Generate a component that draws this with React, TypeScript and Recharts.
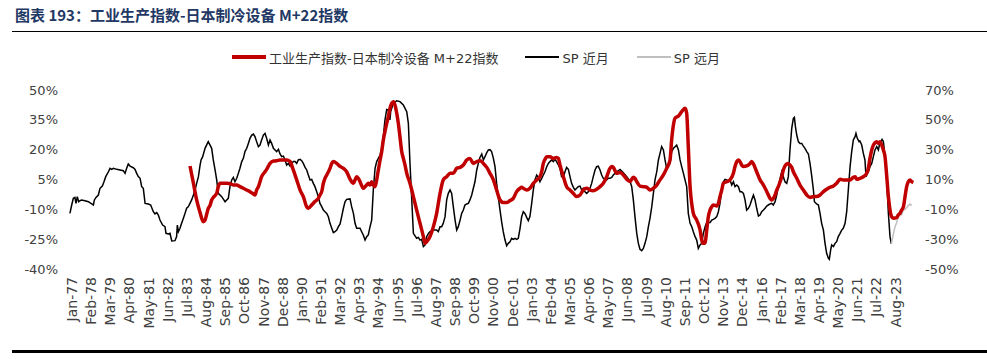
import { Line, LineChart, XAxis, YAxis } from "recharts";

// months since Jan-77, value in %
const ipM22: [number, number][] = [
  [80.1, 11.8], [82.4, 3.1], [84.6, -5.3], [86.9, -11.6], [89.1, -16.2], [90.3, -15.4], [91.4, -12.5], [92.5, -9.5],
  [93.7, -8.0], [94.8, -5.3], [95.9, -4.0], [98.2, -2.0], [99.3, 1.4], [100.5, 3.1], [102.7, 3.1], [105.0, 3.1],
  [108.4, 2.6], [109.5, 2.2], [111.8, 2.2], [114.0, 1.4], [116.3, 0.6], [118.6, -0.3], [120.8, -1.1], [123.1, -2.3],
  [124.2, -2.8], [125.3, -0.3], [126.5, 1.4], [127.6, 3.9], [128.7, 6.4], [131.0, 8.9], [132.1, 10.1], [134.4, 13.1],
  [136.7, 14.3], [138.9, 14.4], [141.2, 14.8], [143.5, 14.8], [145.7, 14.8], [148.0, 14.0], [150.2, 9.8], [152.5, 4.8],
  [154.8, -0.3], [157.0, -3.6], [159.3, -8.7], [160.4, -9.5], [162.7, -7.8], [164.9, -6.1], [167.2, -4.5], [168.3, -2.8],
  [169.5, -1.1], [170.6, 3.1], [171.7, 5.6], [172.9, 7.3], [175.1, 10.6], [176.3, 13.1], [177.4, 14.0], [179.7, 13.1],
  [181.9, 11.6], [184.2, 10.6], [186.4, 8.9], [188.7, 5.2], [191.0, 3.1], [192.1, 4.8], [193.2, 6.4], [194.3, 5.6],
  [195.5, 3.9], [197.7, 0.6], [198.9, 1.4], [200.0, 2.2], [201.1, 3.1], [202.3, 2.2], [203.4, 3.9], [204.5, 2.2],
  [205.7, 1.4], [206.8, 4.8], [207.9, 9.8], [209.1, 14.8], [210.2, 19.0], [211.3, 24.9], [212.4, 29.1], [213.6, 33.2],
  [214.7, 36.6], [215.8, 40.8], [217.0, 43.3], [218.1, 44.1], [219.2, 42.5], [220.4, 38.3], [221.5, 33.2], [222.6, 26.5],
  [223.8, 19.0], [224.9, 15.6], [226.0, 12.3], [227.2, 8.1], [229.4, 3.1], [231.7, -3.6], [233.9, -10.3], [236.2, -17.0],
  [238.5, -23.7], [239.6, -27.1], [240.7, -26.3], [243.0, -23.7], [245.3, -18.7], [247.5, -12.0], [249.8, -2.0], [252.0, 4.8],
  [254.3, 6.4], [256.6, 8.1], [258.8, 8.1], [261.1, 10.6], [263.4, 11.1], [265.6, 12.3], [267.9, 14.8], [270.1, 15.6],
  [272.4, 13.1], [274.7, 14.0], [276.9, 14.4], [279.2, 13.1], [281.5, 11.1], [283.7, 8.1], [286.0, 4.8], [288.2, -0.3],
  [290.5, -5.3], [292.7, -6.6], [295.0, -6.6], [297.3, -5.6], [299.5, -4.5], [301.8, -1.1], [304.1, 0.6], [305.2, 1.1],
  [306.3, 0.6], [308.6, -0.3], [310.8, 0.6], [313.1, 3.1], [315.4, 4.8], [317.6, 6.4], [318.8, 8.9], [319.9, 13.1],
  [321.0, 15.1], [322.2, 16.5], [324.4, 16.5], [326.7, 15.6], [328.9, 16.1], [330.1, 15.6], [331.2, 12.3], [333.5, 6.4],
  [335.7, 1.4], [338.0, -0.3], [340.3, -2.0], [342.5, -3.6], [344.8, -2.8], [347.0, -0.3], [349.3, 0.6], [351.6, -0.3],
  [353.8, -0.6], [356.1, 0.1], [358.4, 1.4], [360.6, 3.1], [362.9, 6.4], [365.1, 10.6], [366.3, 11.5], [367.4, 11.1],
  [369.7, 8.1], [371.9, 8.5], [374.2, 7.3], [376.5, 5.1], [378.7, 4.0], [381.0, 6.1], [382.1, 5.6], [383.3, 3.9],
  [385.5, 1.7], [387.8, 1.4], [390.1, 1.1], [392.3, -0.3], [394.6, 0.6], [396.9, 2.2], [399.1, 4.8], [401.4, 7.3],
  [403.6, 10.6], [405.9, 14.8], [407.0, 24.9], [408.2, 32.4], [409.3, 35.8], [411.6, 36.9], [413.8, 39.1], [416.1, 40.8],
  [417.2, 38.3], [418.3, 21.5], [419.5, 1.4], [420.6, -7.0], [421.7, -12.0], [424.0, -15.4], [426.3, -20.4], [427.4, -25.4],
  [428.5, -27.1], [429.7, -26.8], [430.8, -20.4], [431.9, -13.7], [433.1, -10.3], [434.2, -8.7], [435.3, -7.8], [437.6, -8.3],
  [438.7, -7.0], [439.8, -3.6], [441.0, -0.3], [442.1, 3.1], [444.4, 3.9], [446.6, 4.8], [448.9, 8.1], [450.0, 11.5],
  [451.2, 14.0], [452.3, 14.8], [453.4, 14.0], [454.5, 12.3], [455.7, 11.5], [457.9, 11.8], [460.2, 13.1], [461.3, 14.0],
  [462.5, 12.8], [464.7, 8.9], [467.0, 4.8], [469.3, 2.2], [471.5, -1.0], [473.8, -4.5], [474.9, -5.3], [476.0, -4.5],
  [477.2, -2.8], [478.3, -0.3], [479.4, 1.4], [480.6, 3.9], [481.7, 6.4], [482.8, 9.8], [483.9, 11.8], [485.1, 12.8],
  [486.2, 13.1], [487.3, 12.3], [488.5, 11.1], [489.6, 8.9], [491.9, 5.6], [494.1, 2.2], [496.4, -0.3], [498.7, -2.8],
  [500.9, -4.0], [503.2, -3.6], [505.4, -3.6], [507.7, -2.8], [510.0, -1.1], [512.2, 0.1], [514.5, 1.1], [516.8, 1.7],
  [519.0, 3.1], [521.3, 5.1], [523.5, 4.8], [525.8, 4.8], [528.1, 4.8], [530.3, 6.1], [531.5, 6.4], [532.6, 5.1],
  [534.8, 5.6], [537.1, 6.4], [539.4, 8.1], [540.5, 10.6], [541.6, 15.6], [542.8, 19.8], [543.9, 22.3], [545.0, 23.5],
  [546.2, 24.0], [547.3, 23.2], [548.4, 24.0], [549.6, 22.3], [550.7, 19.8], [551.8, 16.5], [553.0, 6.4], [554.1, -3.6],
  [555.2, -10.3], [556.3, -13.7], [557.5, -14.5], [559.7, -14.2], [560.9, -12.8], [562.0, -12.0], [563.1, -10.3], [564.3, -8.7],
  [565.4, -3.6], [566.5, 1.4], [567.6, 3.9], [568.8, 4.8], [569.9, 3.9], [571.0, 3.4],
];

const spNear: [number, number][] = [
  [-1.4, -12.7], [-0.2, -7.1], [0.9, -2.6], [2.0, -2.0], [2.7, -6.0], [3.6, -1.5], [4.5, -4.9], [5.4, -4.2],
  [6.6, -3.8], [8.8, -4.2], [11.1, -4.9], [13.4, -6.4], [14.5, -7.1], [15.2, -3.7], [16.3, -2.0], [17.9, -0.4],
  [19.0, 4.1], [20.6, 5.6], [21.7, 8.5], [22.9, 11.9], [24.7, 15.2], [25.8, 17.5], [26.9, 16.8], [28.1, 17.5],
  [30.3, 16.8], [32.6, 16.4], [34.8, 15.9], [36.0, 14.1], [37.1, 17.5], [38.2, 20.4], [39.4, 19.0], [41.6, 17.9],
  [42.8, 16.8], [43.9, 14.1], [45.0, 11.9], [46.2, 10.8], [47.3, 5.2], [48.4, 4.1], [49.6, -6.0], [51.8, -6.4],
  [53.4, -7.1], [55.2, -11.6], [56.3, -13.1], [57.5, -12.2], [58.6, -13.8], [59.7, -17.2], [61.5, -20.5], [63.1, -21.6],
  [63.8, -26.1], [65.4, -26.5], [66.5, -26.1], [67.7, -31.2], [69.9, -31.0], [71.0, -28.3], [71.5, -20.5], [72.2, -25.0],
  [73.3, -22.7], [74.4, -19.4], [75.6, -16.0], [76.7, -12.7], [77.8, -9.3], [79.0, -8.2], [81.2, -3.7], [82.4, -0.4],
  [83.5, 3.0], [84.6, 7.4], [85.8, 11.9], [86.9, 19.5], [87.6, 23.1], [88.7, 25.3], [90.3, 30.9], [91.9, 34.2],
  [92.5, 35.4], [93.7, 33.1], [94.8, 30.9], [95.9, 23.1], [97.1, 16.4], [98.2, 9.7], [99.3, 0.7], [101.6, -1.5],
  [103.9, -4.9], [105.0, -3.7], [106.1, -2.6], [107.2, 5.2], [108.4, 9.7], [109.5, 11.4], [110.6, 8.5], [111.8, 10.8],
  [112.9, 14.1], [114.0, 17.5], [115.2, 22.0], [116.3, 24.2], [117.4, 28.7], [118.6, 30.9], [119.7, 34.2], [120.8, 37.6],
  [122.0, 39.8], [123.1, 40.5], [124.2, 38.7], [125.3, 35.4], [126.5, 32.0], [127.6, 33.1], [128.7, 36.5], [129.9, 39.8],
  [131.0, 40.9], [132.1, 37.6], [133.3, 33.1], [134.4, 36.5], [135.5, 34.2], [136.7, 30.9], [137.8, 29.8], [138.9, 28.7],
  [140.1, 30.2], [141.2, 27.1], [142.3, 25.3], [143.5, 25.7], [144.6, 23.1], [145.7, 19.7], [146.8, 20.8], [148.0, 19.0],
  [149.1, 20.8], [150.2, 22.0], [151.4, 22.0], [152.5, 20.8], [153.6, 23.1], [154.8, 23.5], [155.9, 22.6], [157.0, 20.8],
  [158.2, 18.1], [159.3, 16.4], [160.4, 13.0], [161.6, 9.7], [162.7, 10.1], [163.8, 7.4], [164.9, 5.2], [166.1, 1.8],
  [167.2, -1.5], [168.3, -6.0], [169.5, -8.2], [170.6, -10.5], [171.7, -11.6], [172.9, -12.7], [174.0, -15.0], [175.1, -19.4],
  [176.3, -22.7], [177.4, -25.6], [178.5, -25.0], [179.7, -23.9], [180.8, -21.6], [181.9, -19.9], [183.0, -15.0], [184.2, -9.3],
  [185.3, -4.9], [186.4, -3.3], [188.7, -3.0], [189.8, -8.2], [191.0, -12.7], [192.1, -19.4], [193.2, -22.7], [195.5, -22.7],
  [196.6, -25.0], [197.7, -27.2], [198.9, -30.6], [200.0, -28.3], [201.1, -27.2], [202.3, -21.6], [203.4, -17.2], [204.5, 3.0],
  [205.7, 17.5], [206.8, 22.0], [207.9, 24.2], [209.1, 26.4], [210.2, 30.9], [211.3, 38.7], [212.4, 49.9], [213.6, 57.0],
  [214.7, 56.6], [215.8, 49.9], [216.3, 55.5], [217.0, 57.7], [218.1, 61.1], [220.4, 62.8], [222.6, 62.2], [224.9, 59.9],
  [227.2, 55.5], [228.3, 47.6], [229.4, 20.8], [230.5, -1.5], [231.7, -26.1], [233.9, -29.4], [235.1, -28.8], [236.2, -30.6],
  [237.3, -30.1], [238.5, -35.0], [239.6, -33.9], [240.7, -28.3], [241.9, -26.1], [243.0, -25.0], [245.3, -23.9], [247.5, -23.9],
  [248.6, -25.0], [249.8, -21.6], [250.9, -21.6], [252.0, -19.4], [253.2, -14.9], [254.3, -3.7], [255.4, 0.7], [256.6, 3.0],
  [257.7, 0.7], [258.8, -8.2], [260.0, -17.2], [261.1, -23.9], [262.2, -21.6], [263.4, -17.2], [264.5, -12.7], [265.6, -10.5],
  [266.7, -7.1], [267.9, -6.4], [269.0, -6.0], [270.1, -3.7], [271.3, -0.4], [272.4, 4.1], [273.5, 8.5], [274.7, 16.4],
  [275.8, 20.8], [276.9, 24.8], [278.1, 27.1], [279.2, 23.1], [280.3, 25.3], [281.5, 28.0], [282.6, 29.8], [283.7, 30.0],
  [284.8, 28.7], [286.0, 24.2], [287.1, 18.6], [288.2, 7.4], [289.3, -1.5], [290.5, -10.5], [291.6, -18.3], [292.7, -25.0],
  [293.9, -30.6], [295.0, -34.4], [296.1, -32.8], [297.3, -31.7], [298.4, -29.4], [299.5, -30.1], [300.7, -29.4], [301.8, -30.1],
  [302.9, -29.4], [304.1, -22.7], [305.2, -14.9], [306.3, -11.6], [307.4, -12.7], [308.6, -15.4], [309.7, -17.6], [310.8, -14.9],
  [312.0, -6.0], [313.1, 3.0], [314.2, 9.7], [315.4, 13.0], [316.5, 11.4], [317.6, 8.5], [318.8, 10.8], [319.9, 13.0],
  [321.0, 15.2], [322.2, 18.6], [323.3, 20.8], [324.4, 22.0], [325.5, 23.1], [326.7, 22.0], [327.8, 23.5], [328.9, 22.0],
  [330.1, 19.7], [331.2, 17.5], [332.3, 11.9], [333.5, 11.9], [334.6, 15.2], [335.7, 18.1], [336.9, 16.8], [338.0, 11.9],
  [339.1, 7.4], [340.3, 4.7], [341.4, 3.0], [342.5, 4.1], [343.6, 5.2], [344.8, 5.6], [345.9, 3.0], [347.0, 4.1],
  [348.2, 1.8], [349.3, 0.7], [350.4, 1.8], [351.6, 4.1], [352.7, 7.4], [353.8, 11.9], [355.0, 16.4], [356.1, 18.6],
  [357.2, 19.0], [358.4, 16.4], [359.5, 13.0], [360.6, 10.8], [361.7, 10.1], [362.9, 9.7], [364.0, 10.8], [365.1, 10.8],
  [366.3, 11.4], [367.4, 13.0], [369.7, 15.2], [372.0, 16.8], [374.2, 14.6], [376.5, 11.9], [378.7, 9.0], [379.9, 5.2],
  [381.0, -3.7], [382.1, -14.9], [383.3, -26.1], [384.4, -32.8], [385.5, -36.8], [386.7, -37.7], [387.8, -36.2], [388.9, -32.8],
  [390.1, -28.3], [391.2, -21.6], [392.3, -16.0], [393.5, -8.2], [394.6, 0.7], [395.7, 9.7], [396.9, 15.2], [398.0, 23.1],
  [399.1, 27.5], [400.2, 32.0], [401.4, 29.8], [402.5, 23.1], [403.6, 17.5], [404.8, 19.7], [405.9, 20.8], [407.0, 28.7],
  [408.2, 30.9], [409.3, 32.0], [410.4, 33.1], [411.6, 29.8], [412.7, 23.1], [413.8, 18.6], [415.0, 14.1], [416.1, 9.7],
  [417.2, 5.2], [418.3, -12.7], [419.5, -19.4], [420.6, -21.6], [421.7, -25.0], [422.9, -28.3], [424.0, -30.6], [425.1, -36.2],
  [426.3, -33.9], [427.4, -32.8], [428.5, -26.1], [429.7, -21.6], [430.8, -18.9], [433.1, -18.9], [434.2, -17.2], [435.3, -16.7],
  [436.4, -16.0], [437.6, -14.9], [438.7, -11.6], [439.8, -6.0], [441.0, 3.0], [442.1, 8.5], [443.2, 10.1], [444.4, 9.7],
  [445.5, 8.5], [446.6, 9.7], [447.8, 6.3], [448.9, 8.5], [450.0, 5.2], [451.2, 6.3], [452.3, 5.2], [453.4, 1.8],
  [454.5, 1.8], [455.7, 0.7], [456.8, -3.7], [457.9, -10.5], [459.1, -9.3], [460.2, -7.1], [461.3, -3.7], [462.5, -0.4],
  [463.6, -3.7], [464.7, -9.3], [465.9, -14.5], [467.0, -13.8], [468.1, -11.6], [469.3, -10.5], [470.4, -9.3], [471.5, -7.8],
  [472.6, -7.1], [473.8, -6.4], [474.9, -6.0], [476.0, -7.1], [477.2, -4.9], [478.3, -0.4], [479.4, 5.2], [480.6, 10.8],
  [481.7, 15.2], [482.8, 11.9], [483.9, 8.5], [485.1, 7.4], [486.2, 11.9], [487.3, 29.8], [488.5, 44.3], [489.6, 51.0],
  [490.3, 51.7], [491.0, 45.4], [491.9, 39.8], [493.0, 35.4], [494.1, 34.2], [495.3, 34.2], [496.4, 32.4], [497.5, 30.9],
  [498.7, 28.7], [499.8, 27.1], [500.9, 20.8], [502.0, 13.0], [503.2, 3.0], [503.9, -4.9], [505.4, -6.4], [506.6, -7.1],
  [507.7, -12.7], [508.8, -19.4], [510.0, -23.9], [511.1, -32.8], [512.2, -39.5], [513.4, -42.9], [514.0, -43.5], [514.9, -37.3],
  [515.6, -33.9], [516.8, -35.0], [517.9, -32.8], [519.0, -31.7], [520.1, -28.3], [521.3, -26.1], [522.4, -23.9], [523.5, -22.7],
  [524.7, -19.4], [525.8, -11.6], [526.9, 3.0], [528.1, 18.6], [529.2, 28.7], [530.3, 36.5], [531.5, 38.7], [532.1, 40.9],
  [533.0, 37.6], [534.2, 35.4], [534.8, 35.8], [536.0, 33.1], [537.1, 27.5], [538.2, 23.1], [538.9, 11.9], [539.8, 14.1],
  [540.5, 15.2], [541.6, 18.6], [542.8, 20.8], [543.9, 25.3], [545.0, 29.8], [546.2, 32.0], [547.3, 29.8], [548.0, 33.1],
  [548.9, 35.4], [549.8, 36.9], [550.7, 35.4], [551.8, 25.3], [553.0, 9.7], [554.1, -12.7], [555.2, -28.3], [556.1, -33.2],
];

const spFar: [number, number][] = [
  [556.1, -33.2], [557.5, -26.5], [558.6, -21.6], [559.7, -19.0], [560.8, -15.0], [561.9, -12.0], [563.1, -13.5],
  [564.3, -10.5], [565.4, -10.0], [566.5, -9.0], [567.6, -7.5], [568.8, -6.5], [569.9, -7.5],
];

const tickLabels = [
  "Jan-77", "Feb-78", "Mar-79", "Apr-80", "May-81", "Jun-82", "Jul-83", "Aug-84", "Sep-85", "Oct-86", "Nov-87",
  "Dec-88", "Jan-90", "Feb-91", "Mar-92", "Apr-93", "May-94", "Jun-95", "Jul-96", "Aug-97", "Sep-98", "Oct-99",
  "Nov-00", "Dec-01", "Jan-03", "Feb-04", "Mar-05", "Apr-06", "May-07", "Jun-08", "Jul-09", "Aug-10", "Sep-11",
  "Oct-12", "Nov-13", "Dec-14", "Jan-16", "Feb-17", "Mar-18", "Apr-19", "May-20", "Jun-21", "Jul-22", "Aug-23",
];
const leftTicks = [-40, -25, -10, 5, 20, 35, 50];
const rightTicks = [-50, -30, -10, 10, 30, 50, 70];

const SERIES = [
  { key: "ip", name: "工业生产指数-日本制冷设备 M+22指数", color: "#C00000", width: 3.5 },
  { key: "near", name: "SP 近月", color: "#000000", width: 1.5 },
  { key: "far", name: "SP 远月", color: "#BFBFBF", width: 1.5 },
];

const FONT = "'DejaVu Sans', 'Noto Sans CJK SC', sans-serif";
const TEXT = "#404040";
const tickMonths = tickLabels.map((_, i) => i * 13);
const toRows = (pts: [number, number][]) => pts.map(([m, v]) => ({ m, v }));

function MonthTick({ x, y, payload }: any) {
  return (
    <text
      x={x}
      y={y}
      transform={`rotate(-90, ${x}, ${y})`}
      textAnchor="end"
      dominantBaseline="central"
      fontSize={14}
      fontFamily={FONT}
      fill={TEXT}
    >
      {tickLabels[Math.round(payload.value / 13)]}
    </text>
  );
}

export default function App() {
  const axisTick = { fontSize: 13, fill: TEXT, fontFamily: FONT };
  return (
    <div style={{ position: "absolute", left: 0, top: 0, width: 987, height: 359, background: "#fff", fontFamily: FONT }}>
      <div
        style={{
          position: "absolute",
          left: 15,
          top: 5,
          fontSize: 15,
          fontWeight: 700,
          color: "#1F3864",
          fontFamily: "'Noto Sans CJK SC', sans-serif",
          lineHeight: "20px",
          whiteSpace: "nowrap",
        }}
      >
        图表 193：工业生产指数-日本制冷设备 M+22指数
      </div>
      <div style={{ position: "absolute", left: 12, right: 0, top: 31, height: 1, background: "#000" }} />

      <div style={{ position: "absolute", left: 232, top: 48, display: "flex", alignItems: "center", height: 18 }}>
        {SERIES.map((s, i) => (
          <div key={s.key} style={{ display: "flex", alignItems: "center", marginRight: i === 0 ? 27 : 28 }}>
            <div style={{ width: 34, height: s.width, background: s.color, marginRight: 3 }} />
            <span style={{ fontSize: 13, color: "#333", whiteSpace: "nowrap" }}>{s.name}</span>
          </div>
        ))}
      </div>

      <div style={{ position: "absolute", top: 0, left: 0 }}>
        <LineChart width={987} height={359} margin={{ top: 90, right: 0, bottom: 0, left: 0 }}>
          <XAxis
            type="number"
            dataKey="m"
            domain={[-5.43, 574.2]}
            allowDataOverflow
            ticks={tickMonths}
            interval={0}
            axisLine={false}
            tickLine={false}
            height={90}
            tick={<MonthTick />}
          />
          <YAxis
            yAxisId="left"
            orientation="left"
            width={64}
            domain={[-40, 50]}
            ticks={leftTicks}
            allowDataOverflow
            tickFormatter={(v) => `${v}%`}
            axisLine={false}
            tickLine={false}
            tickMargin={0}
            tick={axisTick}
          />
          <YAxis
            yAxisId="right"
            orientation="right"
            width={69}
            domain={[-50, 70]}
            ticks={rightTicks}
            allowDataOverflow
            tickFormatter={(v) => `${v}%`}
            axisLine={false}
            tickLine={false}
            tickMargin={1}
            tick={axisTick}
          />
          <Line
            yAxisId="right"
            data={toRows(spNear)}
            dataKey="v"
            type="linear"
            stroke={SERIES[1].color}
            strokeWidth={SERIES[1].width}
            dot={false}
            isAnimationActive={false}
          />
          <Line
            yAxisId="right"
            data={toRows(spFar)}
            dataKey="v"
            type="linear"
            stroke={SERIES[2].color}
            strokeWidth={SERIES[2].width}
            dot={false}
            isAnimationActive={false}
          />
          <Line
            yAxisId="left"
            data={toRows(ipM22)}
            dataKey="v"
            type="monotone"
            stroke={SERIES[0].color}
            strokeWidth={SERIES[0].width}
            dot={false}
            isAnimationActive={false}
          />
        </LineChart>
      </div>

      <div style={{ position: "absolute", left: 12, right: 0, top: 350, height: 3, background: "#000" }} />
    </div>
  );
}
